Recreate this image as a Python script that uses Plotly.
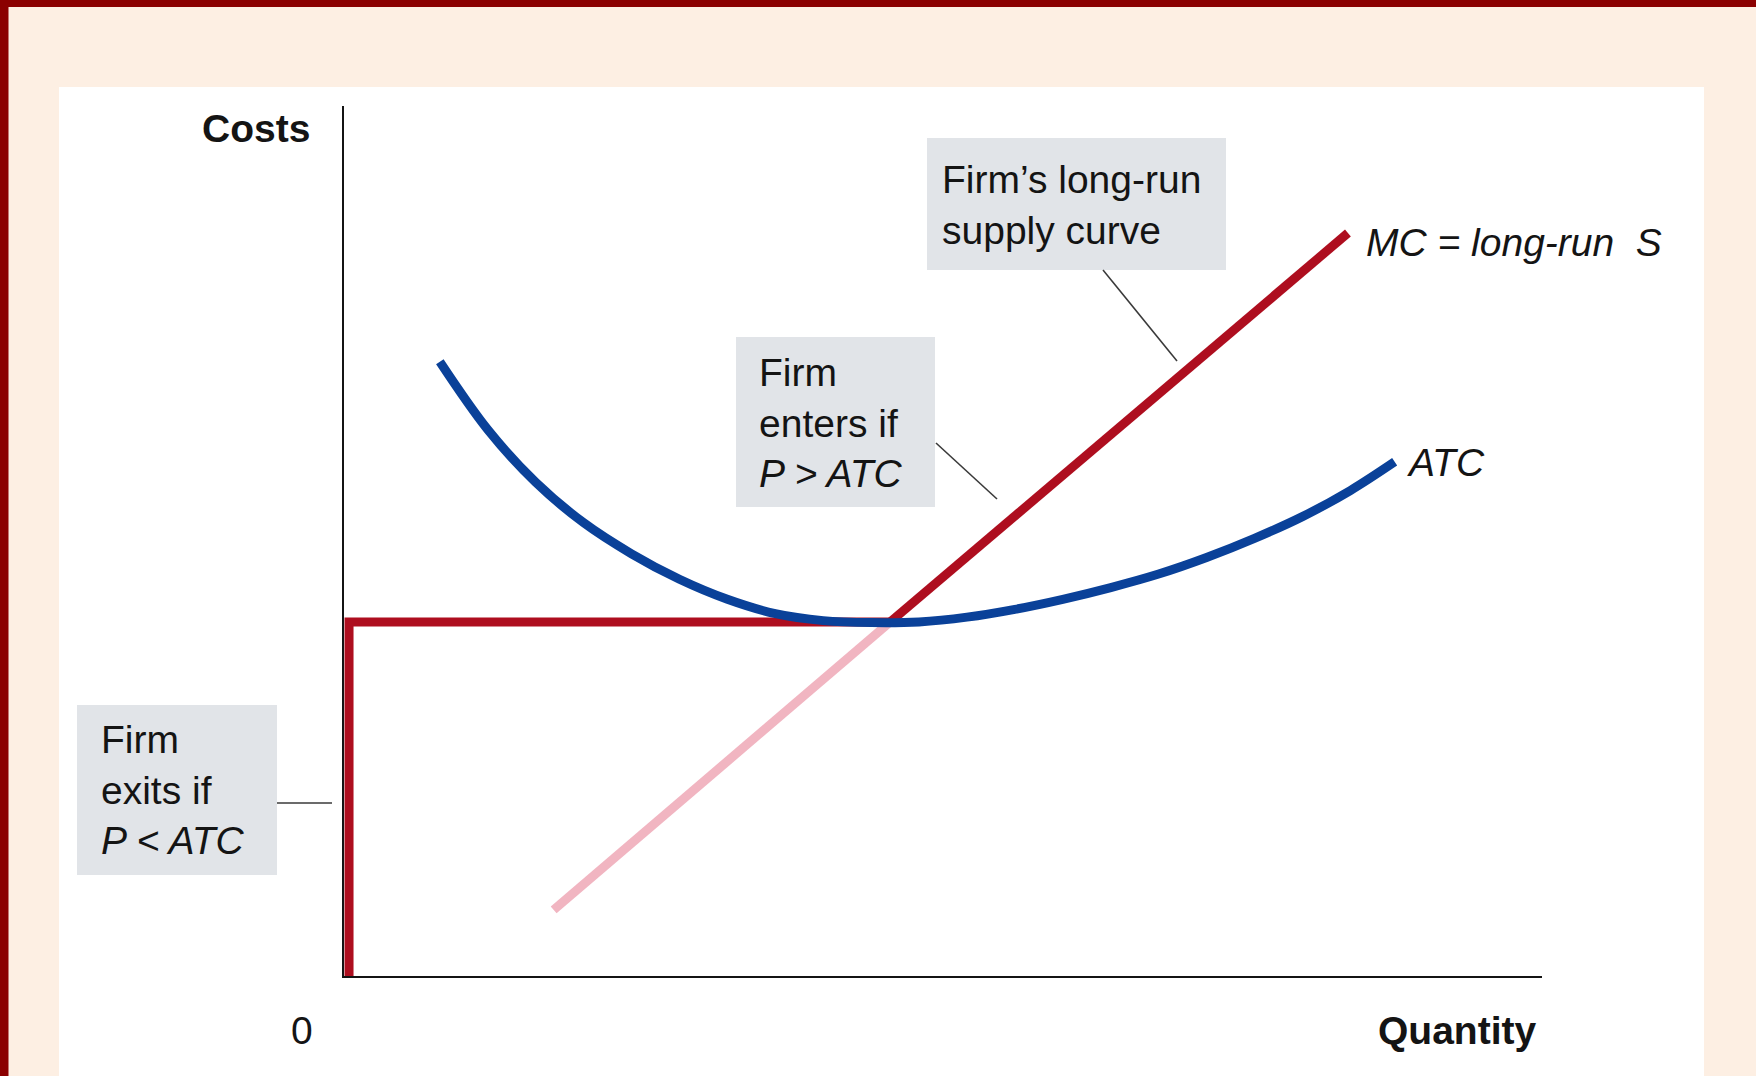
import plotly.graph_objects as go

# Average total cost curve (quantity, cost)
atc_q = [0.80, 1.20, 1.60, 2.00, 2.40, 2.80, 3.20, 3.60, 4.00, 4.40, 4.80,
         5.20, 5.60, 6.00, 6.40, 6.80, 7.20, 7.60, 8.00, 8.40, 8.77]
atc_c = [7.06, 6.28, 5.675, 5.21, 4.853, 4.56, 4.33, 4.165, 4.085, 4.062, 4.07,
         4.125, 4.215, 4.33, 4.465, 4.62, 4.81, 5.03, 5.28, 5.58, 5.91]

# Marginal cost: below min ATC (faded) and above it (long-run supply)
mc_q = [1.75, 4.56, 8.38]
mc_c = [0.76, 4.07, 8.54]

# Long-run supply below the kink: zero output, then flat at min ATC
flat_q = [0.042, 0.042, 4.56]
flat_c = [0.0, 4.07, 4.07]

RED = "#AE0E1F"
PINK = "#F1B5C1"
BLUE = "#0A4199"
BOX = "#E1E4E8"
INK = "#141414"
LEADER = "#3a3a3a"
FONT = "Liberation Sans, Arial, sans-serif"
W, H = 1756, 1076
LW = 9


def fx(px):
    """Horizontal page position (pixels) -> paper fraction."""
    return px / W


def fy(py):
    """Vertical page position (pixels from top) -> paper fraction."""
    return (H - py) / H


fig = go.Figure()
fig.add_trace(go.Scatter(x=mc_q[:2], y=mc_c[:2], mode="lines",
                         line=dict(color=PINK, width=LW)))
fig.add_trace(go.Scatter(x=flat_q, y=flat_c, mode="lines",
                         line=dict(color=RED, width=LW)))
fig.add_trace(go.Scatter(x=mc_q[1:], y=mc_c[1:], mode="lines",
                         line=dict(color=RED, width=LW)))
fig.add_trace(go.Scatter(x=atc_q, y=atc_c, mode="lines",
                         line=dict(color=BLUE, width=LW, shape="spline", smoothing=1.0)))


def rect(x0, y0, x1, y1, color):
    return dict(type="rect", xref="paper", yref="paper",
                x0=fx(x0), x1=fx(x1), y0=fy(y1), y1=fy(y0),
                fillcolor=color, line=dict(width=0), layer="below")


def leader(x0, y0, x1, y1):
    return dict(type="line", xref="paper", yref="paper",
                x0=fx(x0), y0=fy(y0), x1=fx(x1), y1=fy(y1),
                line=dict(color=LEADER, width=1.6))


shapes = [
    rect(59, 87, 1704, H, "white"),          # white card on the beige page
    rect(0, 0, 8.5, H, "#8B0000"),           # dark red frame, left
    rect(0, 0, W, 7, "#8B0000"),             # dark red frame, top
    rect(927, 138, 1226, 270, BOX),          # callout boxes
    rect(736, 337, 935, 507, BOX),
    rect(77, 705, 277, 875, BOX),
    leader(1103, 270, 1177, 361),
    leader(936, 443, 997, 499),
    leader(277, 803, 332, 803),
]


def note(x, y, text, xanchor="left", bold=False):
    return dict(x=fx(x), y=fy(y), xref="paper", yref="paper", text=text,
                showarrow=False, xanchor=xanchor, yanchor="middle", align="left",
                font=dict(family=FONT, size=39, color=INK,
                          weight="bold" if bold else "normal"))


annotations = [
    note(312, 128, "Costs", xanchor="right", bold=True),
    note(302, 1030, "0", xanchor="center"),
    note(1538, 1030, "Quantity", xanchor="right", bold=True),
    note(1364, 242, "<i>MC = long-run  S</i>"),
    note(1405, 462, "<i>ATC</i>"),
    note(940, 205, "Firm’s long-run<br>supply curve"),
    note(757, 423, "Firm<br>enters if<br><i>P &gt; ATC</i>"),
    note(99, 790, "Firm<br>exits if<br><i>P &lt; ATC</i>"),
]

axis_style = dict(showline=True, linecolor=INK, linewidth=2, showgrid=False,
                  zeroline=False, showticklabels=False, ticks="", fixedrange=True)

fig.update_layout(
    width=W, height=H,
    margin=dict(l=0, r=0, t=0, b=0),
    paper_bgcolor="#FDEFE3",
    plot_bgcolor="rgba(0,0,0,0)",
    showlegend=False,
    hovermode=False,
    xaxis=dict(domain=[344 / W, 1542 / W], range=[0, 10], **axis_style),
    yaxis=dict(domain=[100 / H, 970 / H], range=[0, 10], **axis_style),
    shapes=shapes,
    annotations=annotations,
)

fig.write_html("out.html", config={"displayModeBar": False})
